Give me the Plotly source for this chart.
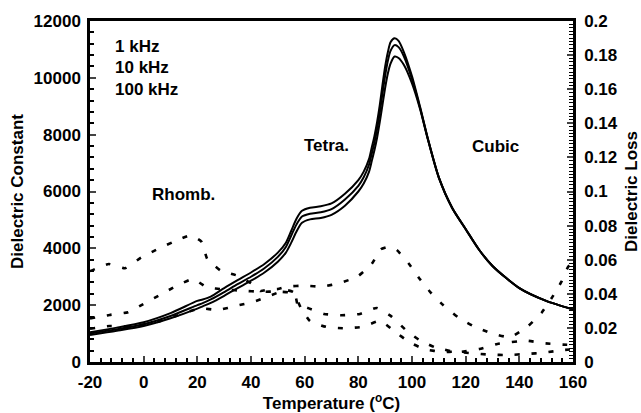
import plotly.graph_objects as go

# Dielectric constant (solid lines)
T_eps = [-20, -10, 0, 10, 20, 22, 25, 30, 35, 40, 45, 50, 53, 55, 57, 59, 62, 66, 70, 75, 80, 82, 84, 85, 86, 87, 88, 89, 90, 91, 92, 93.5, 95, 97, 100, 103, 106, 110, 115, 120, 125, 130, 140, 150, 160]
eps_1k = [1050, 1210, 1400, 1720, 2150, 2200, 2300, 2600, 2880, 3150, 3450, 3850, 4200, 4620, 5050, 5320, 5430, 5480, 5580, 5920, 6400, 6700, 7150, 7550, 7950, 8450, 9050, 9750, 10400, 10900, 11250, 11390, 11300, 10900, 10050, 8980, 7830, 6500, 5420, 4680, 3950, 3380, 2600, 2150, 1850]
eps_10k = [1000, 1150, 1330, 1620, 2000, 2070, 2200, 2460, 2740, 3000, 3300, 3700, 4050, 4450, 4850, 5120, 5220, 5270, 5380, 5720, 6200, 6500, 6950, 7330, 7720, 8200, 8780, 9450, 10080, 10600, 10950, 11150, 11080, 10750, 9950, 8950, 7820, 6500, 5420, 4680, 3950, 3380, 2600, 2150, 1850]
eps_100k = [950, 1100, 1270, 1540, 1880, 1960, 2080, 2330, 2600, 2860, 3150, 3530, 3850, 4200, 4600, 4900, 5020, 5070, 5180, 5500, 6000, 6280, 6700, 7070, 7450, 7900, 8450, 9050, 9650, 10150, 10500, 10750, 10700, 10450, 9800, 8900, 7800, 6480, 5410, 4670, 3950, 3380, 2600, 2150, 1850]

# Dielectric loss (dashed lines)
T_loss_1k = [-20, -13, -7, -1, 5, 11, 17.5, 21.5, 23.7, 28.7, 35, 40.5, 43.5, 47, 50, 53.5, 60, 66.7, 73.4, 79.6, 84.9, 88.4, 91.2, 94.3, 98.7, 103, 107, 111.6, 117.2, 122.8, 129, 136.5, 143.3, 148.3, 152, 155.7, 158.2, 160]
loss_1k = [0.0533, 0.0575, 0.055, 0.0612, 0.066, 0.0704, 0.0743, 0.0706, 0.0604, 0.0536, 0.0506, 0.0457, 0.0417, 0.0426, 0.0428, 0.0442, 0.0448, 0.0442, 0.0465, 0.05, 0.0573, 0.0661, 0.0675, 0.0657, 0.0579, 0.0485, 0.0407, 0.0334, 0.0262, 0.0211, 0.0172, 0.0145, 0.0211, 0.0289, 0.0374, 0.0471, 0.0559, 0.059]
T_loss_10k = [-20, -12.7, -5.8, -0.3, 6, 12.2, 18.4, 23.5, 30, 36.9, 43.6, 50, 54.3, 56.4, 57.5, 60.7, 67.2, 73.8, 80.6, 86.8, 92.4, 97.4, 102.7, 108.6, 115.8, 118.5, 125.1, 131.8, 142.7, 149.2, 156.1, 160]
loss_10k = [0.0255, 0.0276, 0.0292, 0.0338, 0.0393, 0.0446, 0.0487, 0.0438, 0.0426, 0.0418, 0.0412, 0.0413, 0.0408, 0.0397, 0.033, 0.0319, 0.0282, 0.0274, 0.0282, 0.0317, 0.0266, 0.0192, 0.0129, 0.0086, 0.006, 0.006, 0.0076, 0.0106, 0.0125, 0.011, 0.0102, 0.01]
T_loss_100k = [-20, -12.7, -5.2, 5, 12, 21, 27.8, 34.7, 41.1, 47.7, 53, 55.8, 58.5, 62, 68.2, 75, 81.9, 88.1, 93.3, 99, 104.8, 111.7, 116, 122.2, 129.1, 135.9, 142.7, 149.2, 156.1, 160]
loss_100k = [0.0195, 0.0211, 0.0207, 0.0235, 0.027, 0.0315, 0.0305, 0.033, 0.0354, 0.0393, 0.0422, 0.041, 0.032, 0.024, 0.0205, 0.0198, 0.0207, 0.0242, 0.0182, 0.0116, 0.0074, 0.0059, 0.006, 0.0051, 0.0043, 0.0041, 0.0047, 0.0055, 0.007, 0.0075]

x_ticks = [-20, 0, 20, 40, 60, 80, 100, 120, 140, 160]
x_ticktext = ["-20", "0", "20", "40", "60", "80", "100", "120", "140", "160"]

FONT = "Liberation Sans"
FS = 17
fig = go.Figure()

for name, ys in [("1 kHz", eps_1k), ("10 kHz", eps_10k), ("100 kHz", eps_100k)]:
    fig.add_trace(go.Scatter(x=T_eps, y=ys, mode="lines", name=name,
                             line=dict(color="black", width=2, shape="spline", smoothing=0.7),
                             showlegend=False))

for name, tx, ys in [("1 kHz", T_loss_1k, loss_1k), ("10 kHz", T_loss_10k, loss_10k), ("100 kHz", T_loss_100k, loss_100k)]:
    fig.add_trace(go.Scatter(x=tx, y=ys, mode="lines", name=name + " loss", yaxis="y2",
                             line=dict(color="black", width=2.6, dash="5px,12px", shape="spline", smoothing=0.4),
                             showlegend=False))

tickfont = dict(family=FONT, size=FS, color="black", weight="bold")
titlefont = dict(family=FONT, size=FS, color="black", weight="bold")

fig.update_layout(
    width=641, height=413,
    margin=dict(l=90, r=68, t=21, b=51, autoexpand=False),
    paper_bgcolor="white", plot_bgcolor="white",
    font=dict(family=FONT, color="black"),
    xaxis=dict(range=[-20, 160], tickvals=x_ticks, ticktext=x_ticktext, ticks="inside", ticklen=6, tickwidth=2,
               showline=True, linewidth=2.5, linecolor="black", mirror=True, automargin=False,
               showgrid=False, zeroline=False, tickfont=tickfont, ticklabelstandoff=3,
               minor=dict(dtick=4, ticks="inside", ticklen=4, tickwidth=1.5, tickcolor="black", showgrid=False),
               title=dict(text="Temperature (<sup>o</sup>C)", font=titlefont, standoff=6)),
    yaxis=dict(range=[0, 12000], dtick=2000, tickformat="d", ticks="inside", ticklen=6, tickwidth=2,
               showline=True, linewidth=2.5, linecolor="black", showgrid=False, zeroline=False,
               tickfont=tickfont, automargin=False, ticklabelstandoff=3,
               minor=dict(dtick=400, ticks="inside", ticklen=4, tickwidth=1.5, tickcolor="black", showgrid=False),
               title=dict(text="Dielectric Constant", font=titlefont, standoff=6)),
    yaxis2=dict(range=[0, 0.2], dtick=0.02, overlaying="y", side="right", ticks="inside", ticklen=6, tickwidth=2,
                showline=True, linewidth=2.5, linecolor="black", showgrid=False, zeroline=False,
                tickfont=tickfont, automargin=False, ticklabelstandoff=5,
                minor=dict(dtick=0.002, ticks="inside", ticklen=4, tickwidth=1.2, tickcolor="black", showgrid=False),
                title=dict(text="Dielectric Loss", font=titlefont, standoff=10)),
)

ann_font = dict(family=FONT, size=FS, color="black", weight="bold")
for txt, x, y in [("1 kHz", -11.4, 11120), ("10 kHz", -11.4, 10363), ("100 kHz", -11.4, 9589)]:
    fig.add_annotation(x=x, y=y, text=txt, showarrow=False, xanchor="left", yanchor="middle", font=ann_font)
for txt, x, y in [("Rhomb.", 15, 5894), ("Tetra.", 68, 7619), ("Cubic", 131.1, 7584)]:
    fig.add_annotation(x=x, y=y, text=txt, showarrow=False, xanchor="center", yanchor="middle", font=ann_font)

fig.write_html("out.html", config={"displayModeBar": False},
               post_script="document.body.style.margin='0';document.body.style.overflow='hidden';")
